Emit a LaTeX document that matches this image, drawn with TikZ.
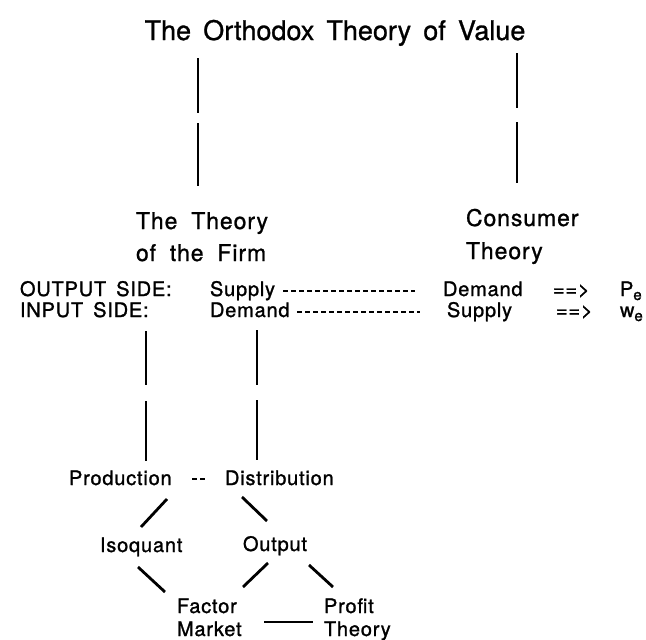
\documentclass[tikz,border=0pt]{standalone}
\usepackage{fontspec}
\setmainfont{TeX Gyre Heros}
\usetikzlibrary{calc}
\newcommand{\bodyfont}{\fontsize{20}{24}\selectfont\addfontfeature{LetterSpace=4,FakeBold=1.2}\spaceskip=0.5em plus 0.1em\relax}
\newcommand{\headfont}{\fontsize{23}{27}\selectfont\addfontfeature{LetterSpace=4,FakeBold=1}\spaceskip=0.6em plus 0.1em\relax}
\newcommand{\titlefont}{\fontsize{27}{30}\selectfont\addfontfeature{FakeBold=1}\spaceskip=0.45em plus 0.1em\relax}
\newcommand{\subE}{\raisebox{-4pt}{\fontsize{15}{15}\selectfont\addfontfeature{FakeBold=1.5}e}}
\begin{document}
\begin{tikzpicture}[x=1pt,y=-1pt,
  lbl/.style={inner sep=0pt, outer sep=0pt, font=\bodyfont, anchor=base west},
  head/.style={inner sep=0pt, outer sep=0pt, font=\headfont, anchor=base west},
  vline/.style={line width=2.4pt},
  diag/.style={line width=2.8pt},
  dline/.style={line width=1.3pt, dash pattern=on 4.5pt off 3.5pt}]
\useasboundingbox (0,0) rectangle (646,640);
\fill[white] (0,0) rectangle (646,640);

% title
\node[inner sep=0pt, font=\titlefont, anchor=base] (title) at (335,40) {The Orthodox Theory of Value};

% headings
\node[head] (firmA) at (136,229) {The Theory};
\node[head] (firmB) at (136,261) {of the Firm};
\node[head] (consA) at (466,226) {Consumer};
\node[head] (consB) at (466,259) {Theory};

% rows
\node[lbl] (outlbl) at (20,296) {OUTPUT SIDE:};
\node[lbl] (sup1) at (210,296) {Supply};
\node[lbl] (dem1) at (443,296) {Demand};
\node[lbl] (arr1) at (553,296) {==>};
\node[lbl] (pe) at (620,296) {P\subE};

\node[lbl] (inlbl) at (20,317) {INPUT SIDE:};
\node[lbl] (dem2) at (210,317) {Demand};
\node[lbl] (sup2) at (447,317) {Supply};
\node[lbl] (arr2) at (556,317) {==>};
\node[lbl] (we) at (620,317) {w\subE};

% lower part
\node[lbl] (prod) at (69,485) {Production};
\node[lbl] (dist) at (225,485) {Distribution};
\node[lbl] (iso) at (100,552) {Isoquant};
\node[lbl] (out) at (243,551) {Output};
\node[lbl] (facA) at (177,613) {Factor};
\node[lbl] (facB) at (177,636) {Market};
\node[lbl] (prof) at (324,613) {Profit};
\node[lbl] (profB) at (324,636) {Theory};

% vertical connectors (broken)
\draw[vline, dash pattern=on 55pt off 10pt on 63pt off 300pt]
  ($(title.base)+(-137,18)$) -- ($(firmA.base west)+(62,-43)$);
\draw[vline, dash pattern=on 55pt off 14pt on 61pt off 300pt]
  ($(title.base)+(182,13)$) -- ($(consA.base west)+(51,-43)$);
\draw[vline, dash pattern=on 54pt off 16pt on 60pt off 300pt]
  ($(inlbl.base west)+(126,14)$) -- ($(prod.base west)+(77,-24)$);
\draw[vline, dash pattern=on 55pt off 15pt on 60pt off 300pt]
  ($(dem2.base west)+(47,13)$) -- ($(dist.base west)+(32,-25)$);

% dashed links
\draw[dline] ($(sup1.base west)+(73,-5)$) -- ($(dem1.base west)+(-28,-5)$);
\draw[dline] ($(dem2.base west)+(87,-5)$) -- ($(sup2.base west)+(-27,-5)$);
\draw[dline] ($(prod.base west)+(123,-6)$) -- ($(dist.base west)+(-20,-6)$);

% diagonals
\draw[diag] ($(prod.base west)+(98,14)$) -- ($(iso.base west)+(41,-25)$);
\draw[diag] ($(dist.base west)+(17,12)$) -- ($(out.base west)+(24,-30)$);
\draw[diag] ($(iso.base west)+(38,15)$) -- ($(facA.base west)+(-12,-21)$);
\draw[diag] ($(out.base west)+(25,12)$) -- ($(facA.base west)+(66,-26)$);
\draw[diag] ($(out.base west)+(66,14)$) -- ($(prof.base west)+(9,-26)$);
\draw[diag] ($(facA.base west)+(87,9)$) -- ($(prof.base west)+(-11,9)$);
\end{tikzpicture}
\end{document}
